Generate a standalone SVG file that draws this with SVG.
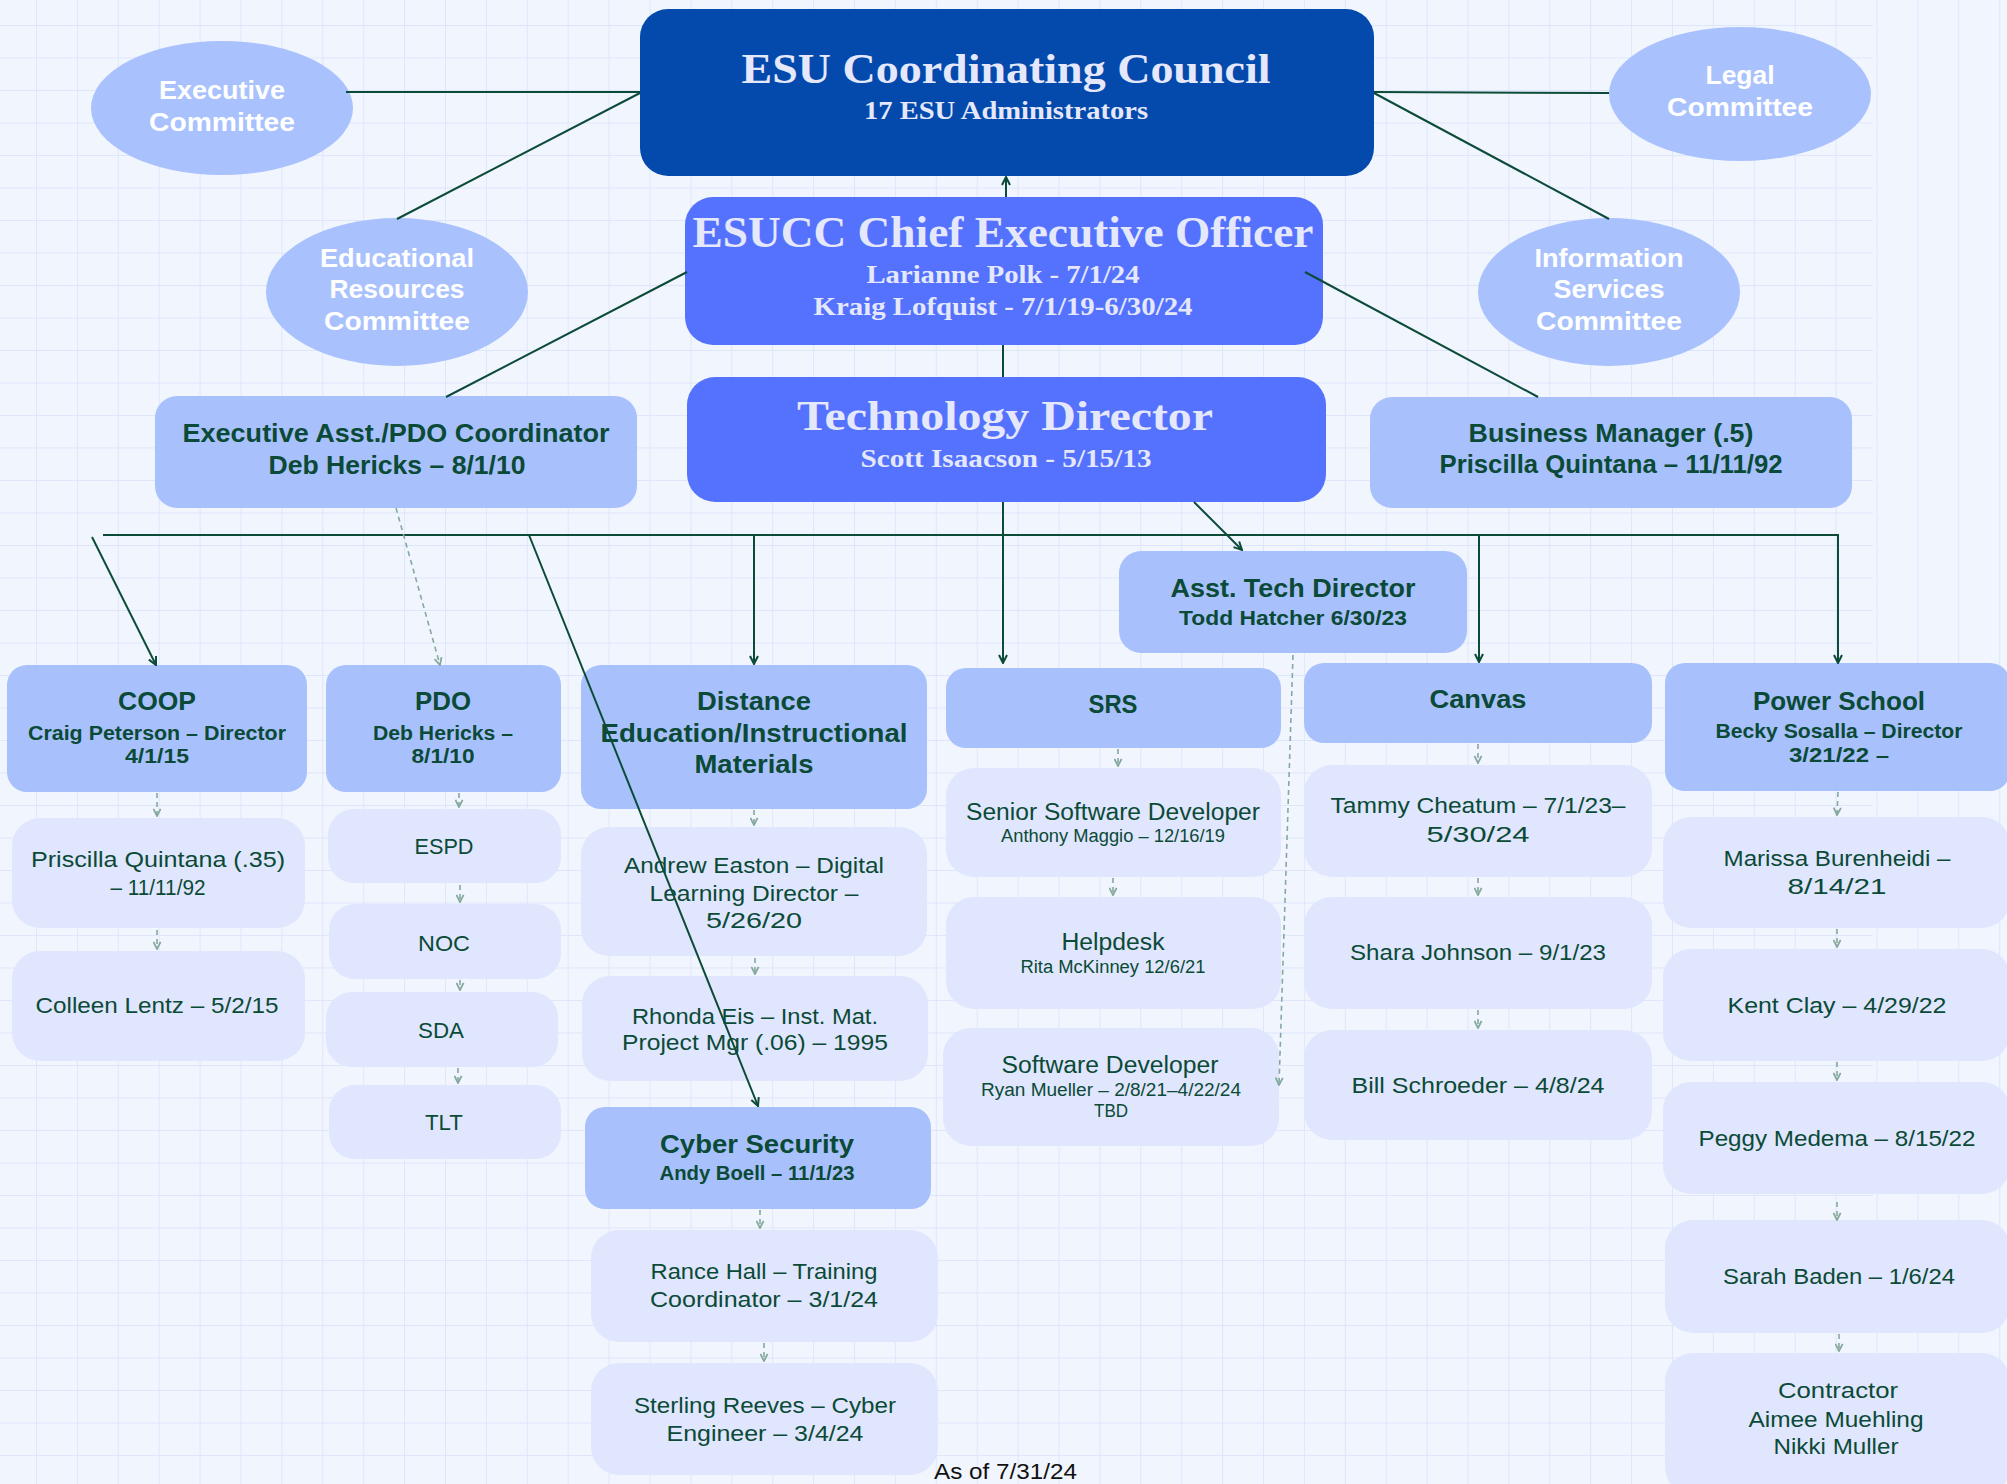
<svg xmlns="http://www.w3.org/2000/svg" width="2007" height="1484" viewBox="0 0 2007 1484">
<defs>
<pattern id="vgrid" x="36" y="0" width="40.9" height="100" patternUnits="userSpaceOnUse"><line x1="0" y1="0" x2="0" y2="100" stroke="#dfe6fb" stroke-width="2"/></pattern>
<pattern id="hgrid" x="0" y="25" width="100" height="32.5" patternUnits="userSpaceOnUse"><line x1="0" y1="0" x2="100" y2="0" stroke="#dfe6fb" stroke-width="2"/></pattern>
<marker id="arr" viewBox="0 0 10 10" refX="9" refY="5" markerWidth="10" markerHeight="10" markerUnits="userSpaceOnUse" orient="auto"><path d="M1,1 L9,5 L1,9" fill="none" stroke="#0b4b37" stroke-width="2"/></marker>
<marker id="darr" viewBox="0 0 10 10" refX="9" refY="5" markerWidth="9" markerHeight="9" markerUnits="userSpaceOnUse" orient="auto"><path d="M1,1 L9,5 L1,9" fill="none" stroke="#86a99d" stroke-width="2"/></marker>
</defs>
<style>
.ell{fill:#a9c2fd}
.dk{fill:#044aad}
.md{fill:#5472fe}
.lt{fill:#a8c1fd}
.lv{fill:#e0e6fd}
text{text-anchor:middle}
.wt{font-family:"Liberation Sans",Arial,sans-serif;font-weight:bold;font-size:26px;fill:#ffffff}
.hs{font-family:"Liberation Serif","Times New Roman",serif;font-weight:bold;fill:#e5e8fb}
.gb{font-family:"Liberation Sans",Arial,sans-serif;font-weight:bold;fill:#0b4a37}
.gr{font-family:"Liberation Sans",Arial,sans-serif;fill:#0b4a37}
.sol{stroke:#0b4b37;stroke-width:2;fill:none}
.sola{stroke:#0b4b37;stroke-width:2;fill:none;marker-end:url(#arr)}
.dsh{stroke:#86a99d;stroke-width:1.6;fill:none;stroke-dasharray:5 4;marker-end:url(#darr)}
</style>
<rect x="0" y="0" width="2007" height="1484" fill="#f1f5fe"/>
<rect x="0" y="0" width="2007" height="1484" fill="url(#vgrid)"/>
<rect x="0" y="0" width="1873" height="1484" fill="url(#hgrid)"/>

<g id="exec-committee">
<ellipse class="ell" cx="222" cy="108" rx="131" ry="67"/>
<text class="wt" x="222" y="99" textLength="126" lengthAdjust="spacingAndGlyphs">Executive</text>
<text class="wt" x="222" y="131" textLength="146" lengthAdjust="spacingAndGlyphs">Committee</text>
</g>
<g id="legal-committee">
<ellipse class="ell" cx="1740" cy="94" rx="131" ry="67"/>
<text class="wt" x="1740" y="84" textLength="69" lengthAdjust="spacingAndGlyphs">Legal</text>
<text class="wt" x="1740" y="116" textLength="146" lengthAdjust="spacingAndGlyphs">Committee</text>
</g>
<g id="edu-committee">
<ellipse class="ell" cx="397" cy="292" rx="131" ry="74"/>
<text class="wt" x="397" y="267" textLength="154" lengthAdjust="spacingAndGlyphs">Educational</text>
<text class="wt" x="397" y="298" textLength="135" lengthAdjust="spacingAndGlyphs">Resources</text>
<text class="wt" x="397" y="330" textLength="146" lengthAdjust="spacingAndGlyphs">Committee</text>
</g>
<g id="info-committee">
<ellipse class="ell" cx="1609" cy="292" rx="131" ry="74"/>
<text class="wt" x="1609" y="267" textLength="149" lengthAdjust="spacingAndGlyphs">Information</text>
<text class="wt" x="1609" y="298" textLength="111" lengthAdjust="spacingAndGlyphs">Services</text>
<text class="wt" x="1609" y="330" textLength="146" lengthAdjust="spacingAndGlyphs">Committee</text>
</g>

<g id="esu-council">
<rect class="dk" x="640" y="9" width="734" height="167" rx="28"/>
<text class="hs" x="1006" y="83" font-size="42" textLength="529" lengthAdjust="spacingAndGlyphs">ESU Coordinating Council</text>
<text class="hs" x="1006" y="119" font-size="25" textLength="284" lengthAdjust="spacingAndGlyphs">17 ESU Administrators</text>
</g>
<g id="ceo">
<rect class="md" x="685" y="197" width="638" height="148" rx="28"/>
<text class="hs" x="1003" y="247" font-size="44" textLength="621" lengthAdjust="spacingAndGlyphs">ESUCC Chief Executive Officer</text>
<text class="hs" x="1003" y="283" font-size="26" textLength="273" lengthAdjust="spacingAndGlyphs">Larianne Polk - 7/1/24</text>
<text class="hs" x="1003" y="315" font-size="26" textLength="379" lengthAdjust="spacingAndGlyphs">Kraig Lofquist - 7/1/19-6/30/24</text>
</g>
<g id="tech-director">
<rect class="md" x="687" y="377" width="639" height="125" rx="28"/>
<text class="hs" x="1005" y="430" font-size="43" textLength="416" lengthAdjust="spacingAndGlyphs">Technology Director</text>
<text class="hs" x="1006" y="467" font-size="26" textLength="291" lengthAdjust="spacingAndGlyphs">Scott Isaacson - 5/15/13</text>
</g>
<g id="exec-asst">
<rect class="lt" x="155" y="396" width="482" height="112" rx="22"/>
<text class="gb" x="396" y="442" font-size="26" textLength="427" lengthAdjust="spacingAndGlyphs">Executive Asst./PDO Coordinator</text>
<text class="gb" x="397" y="474" font-size="26" textLength="257" lengthAdjust="spacingAndGlyphs">Deb Hericks – 8/1/10</text>
</g>
<g id="business-manager">
<rect class="lt" x="1370" y="397" width="482" height="111" rx="22"/>
<text class="gb" x="1611" y="442" font-size="26" textLength="285" lengthAdjust="spacingAndGlyphs">Business Manager (.5)</text>
<text class="gb" x="1611" y="473" font-size="26" textLength="343" lengthAdjust="spacingAndGlyphs">Priscilla Quintana – 11/11/92</text>
</g>
<g id="asst-tech">
<rect class="lt" x="1119" y="551" width="348" height="102" rx="22"/>
<text class="gb" x="1293" y="597" font-size="26" textLength="245" lengthAdjust="spacingAndGlyphs">Asst. Tech Director</text>
<text class="gb" x="1293" y="625" font-size="21" textLength="228" lengthAdjust="spacingAndGlyphs">Todd Hatcher 6/30/23</text>
</g>

<g id="coop">
<rect class="lt" x="7" y="665" width="300" height="127" rx="20"/>
<text class="gb" x="157" y="710" font-size="25" textLength="78" lengthAdjust="spacingAndGlyphs">COOP</text>
<text class="gb" x="157" y="740" font-size="20" textLength="258" lengthAdjust="spacingAndGlyphs">Craig Peterson – Director</text>
<text class="gb" x="157" y="763" font-size="20" textLength="64" lengthAdjust="spacingAndGlyphs">4/1/15</text>
</g>
<g id="priscilla">
<rect class="lv" x="12" y="818" width="293" height="110" rx="28"/>
<text class="gr" x="158" y="867" font-size="22" textLength="254" lengthAdjust="spacingAndGlyphs">Priscilla Quintana  (.35)</text>
<text class="gr" x="158" y="895" font-size="22" textLength="95" lengthAdjust="spacingAndGlyphs">– 11/11/92</text>
</g>
<g id="colleen">
<rect class="lv" x="12" y="951" width="293" height="110" rx="28"/>
<text class="gr" x="157" y="1013" font-size="22" textLength="243" lengthAdjust="spacingAndGlyphs">Colleen Lentz – 5/2/15</text>
</g>

<g id="pdo">
<rect class="lt" x="326" y="665" width="235" height="127" rx="20"/>
<text class="gb" x="443" y="710" font-size="25" textLength="56" lengthAdjust="spacingAndGlyphs">PDO</text>
<text class="gb" x="443" y="740" font-size="20" textLength="140" lengthAdjust="spacingAndGlyphs">Deb Hericks –</text>
<text class="gb" x="443" y="763" font-size="20" textLength="63" lengthAdjust="spacingAndGlyphs">8/1/10</text>
</g>
<g id="espd">
<rect class="lv" x="328" y="809" width="233" height="74" rx="26"/>
<text class="gr" x="444" y="854" font-size="22" textLength="59" lengthAdjust="spacingAndGlyphs">ESPD</text>
</g>
<g id="noc">
<rect class="lv" x="329" y="904" width="232" height="75" rx="26"/>
<text class="gr" x="444" y="951" font-size="22" textLength="52" lengthAdjust="spacingAndGlyphs">NOC</text>
</g>
<g id="sda">
<rect class="lv" x="326" y="992" width="232" height="75" rx="26"/>
<text class="gr" x="441" y="1038" font-size="22" textLength="46" lengthAdjust="spacingAndGlyphs">SDA</text>
</g>
<g id="tlt">
<rect class="lv" x="329" y="1085" width="232" height="74" rx="26"/>
<text class="gr" x="444" y="1130" font-size="22" textLength="38" lengthAdjust="spacingAndGlyphs">TLT</text>
</g>

<g id="distance-ed">
<rect class="lt" x="581" y="665" width="346" height="144" rx="20"/>
<text class="gb" x="754" y="710" font-size="25" textLength="114" lengthAdjust="spacingAndGlyphs">Distance</text>
<text class="gb" x="754" y="742" font-size="25" textLength="307" lengthAdjust="spacingAndGlyphs">Education/Instructional</text>
<text class="gb" x="754" y="773" font-size="25" textLength="119" lengthAdjust="spacingAndGlyphs">Materials</text>
</g>
<g id="andrew">
<rect class="lv" x="581" y="827" width="346" height="129" rx="28"/>
<text class="gr" x="754" y="873" font-size="22" textLength="260" lengthAdjust="spacingAndGlyphs">Andrew Easton – Digital</text>
<text class="gr" x="754" y="901" font-size="22" textLength="209" lengthAdjust="spacingAndGlyphs">Learning Director –</text>
<text class="gr" x="754" y="928" font-size="22" textLength="96" lengthAdjust="spacingAndGlyphs">5/26/20</text>
</g>
<g id="rhonda">
<rect class="lv" x="582" y="976" width="346" height="105" rx="28"/>
<text class="gr" x="755" y="1024" font-size="22" textLength="246" lengthAdjust="spacingAndGlyphs">Rhonda Eis – Inst. Mat.</text>
<text class="gr" x="755" y="1050" font-size="22" textLength="266" lengthAdjust="spacingAndGlyphs">Project Mgr (.06) – 1995</text>
</g>
<g id="cyber">
<rect class="lt" x="585" y="1107" width="346" height="102" rx="20"/>
<text class="gb" x="757" y="1153" font-size="26" textLength="194" lengthAdjust="spacingAndGlyphs">Cyber Security</text>
<text class="gb" x="757" y="1180" font-size="20" textLength="195" lengthAdjust="spacingAndGlyphs">Andy Boell – 11/1/23</text>
</g>
<g id="rance">
<rect class="lv" x="591" y="1230" width="347" height="112" rx="28"/>
<text class="gr" x="764" y="1279" font-size="22" textLength="227" lengthAdjust="spacingAndGlyphs">Rance Hall – Training</text>
<text class="gr" x="764" y="1307" font-size="22" textLength="228" lengthAdjust="spacingAndGlyphs">Coordinator – 3/1/24</text>
</g>
<g id="sterling">
<rect class="lv" x="591" y="1363" width="347" height="112" rx="28"/>
<text class="gr" x="765" y="1413" font-size="22" textLength="262" lengthAdjust="spacingAndGlyphs">Sterling Reeves – Cyber</text>
<text class="gr" x="765" y="1441" font-size="22" textLength="197" lengthAdjust="spacingAndGlyphs">Engineer – 3/4/24</text>
</g>

<g id="srs">
<rect class="lt" x="946" y="668" width="335" height="80" rx="20"/>
<text class="gb" x="1113" y="713" font-size="25" textLength="49" lengthAdjust="spacingAndGlyphs">SRS</text>
</g>
<g id="senior-dev">
<rect class="lv" x="946" y="768" width="335" height="109" rx="28"/>
<text class="gr" x="1113" y="820" font-size="23" textLength="294" lengthAdjust="spacingAndGlyphs">Senior Software Developer</text>
<text class="gr" x="1113" y="842" font-size="18" textLength="224" lengthAdjust="spacingAndGlyphs">Anthony Maggio – 12/16/19</text>
</g>
<g id="helpdesk">
<rect class="lv" x="946" y="897" width="335" height="112" rx="28"/>
<text class="gr" x="1113" y="950" font-size="23" textLength="103" lengthAdjust="spacingAndGlyphs">Helpdesk</text>
<text class="gr" x="1113" y="973" font-size="18" textLength="185" lengthAdjust="spacingAndGlyphs">Rita McKinney 12/6/21</text>
</g>
<g id="software-dev">
<rect class="lv" x="943" y="1028" width="336" height="118" rx="28"/>
<text class="gr" x="1110" y="1073" font-size="23" textLength="217" lengthAdjust="spacingAndGlyphs">Software Developer</text>
<text class="gr" x="1111" y="1096" font-size="18" textLength="260" lengthAdjust="spacingAndGlyphs">Ryan Mueller – 2/8/21–4/22/24</text>
<text class="gr" x="1111" y="1117" font-size="18" textLength="34" lengthAdjust="spacingAndGlyphs">TBD</text>
</g>

<g id="canvas">
<rect class="lt" x="1304" y="663" width="348" height="80" rx="20"/>
<text class="gb" x="1478" y="708" font-size="25" textLength="97" lengthAdjust="spacingAndGlyphs">Canvas</text>
</g>
<g id="tammy">
<rect class="lv" x="1304" y="765" width="348" height="112" rx="28"/>
<text class="gr" x="1478" y="813" font-size="22" textLength="295" lengthAdjust="spacingAndGlyphs">Tammy Cheatum – 7/1/23–</text>
<text class="gr" x="1478" y="842" font-size="22" textLength="103" lengthAdjust="spacingAndGlyphs">5/30/24</text>
</g>
<g id="shara">
<rect class="lv" x="1304" y="897" width="348" height="112" rx="28"/>
<text class="gr" x="1478" y="960" font-size="22" textLength="256" lengthAdjust="spacingAndGlyphs">Shara Johnson – 9/1/23</text>
</g>
<g id="bill">
<rect class="lv" x="1304" y="1030" width="348" height="110" rx="28"/>
<text class="gr" x="1478" y="1093" font-size="22" textLength="253" lengthAdjust="spacingAndGlyphs">Bill Schroeder – 4/8/24</text>
</g>

<g id="power-school">
<rect class="lt" x="1665" y="663" width="345" height="128" rx="20"/>
<text class="gb" x="1839" y="710" font-size="25" textLength="172" lengthAdjust="spacingAndGlyphs">Power School</text>
<text class="gb" x="1839" y="738" font-size="21" textLength="247" lengthAdjust="spacingAndGlyphs">Becky Sosalla – Director</text>
<text class="gb" x="1839" y="762" font-size="21" textLength="100" lengthAdjust="spacingAndGlyphs">3/21/22 –</text>
</g>
<g id="marissa">
<rect class="lv" x="1663" y="817" width="347" height="111" rx="28"/>
<text class="gr" x="1837" y="866" font-size="22" textLength="227" lengthAdjust="spacingAndGlyphs">Marissa Burenheidi –</text>
<text class="gr" x="1837" y="894" font-size="22" textLength="99" lengthAdjust="spacingAndGlyphs">8/14/21</text>
</g>
<g id="kent">
<rect class="lv" x="1663" y="949" width="347" height="112" rx="28"/>
<text class="gr" x="1837" y="1013" font-size="22" textLength="219" lengthAdjust="spacingAndGlyphs">Kent Clay – 4/29/22</text>
</g>
<g id="peggy">
<rect class="lv" x="1663" y="1082" width="347" height="112" rx="28"/>
<text class="gr" x="1837" y="1146" font-size="22" textLength="277" lengthAdjust="spacingAndGlyphs">Peggy Medema – 8/15/22</text>
</g>
<g id="sarah">
<rect class="lv" x="1665" y="1220" width="345" height="113" rx="28"/>
<text class="gr" x="1839" y="1284" font-size="22" textLength="232" lengthAdjust="spacingAndGlyphs">Sarah Baden – 1/6/24</text>
</g>
<g id="contractor">
<rect class="lv" x="1665" y="1353" width="345" height="142" rx="28"/>
<text class="gr" x="1838" y="1398" font-size="22" textLength="120" lengthAdjust="spacingAndGlyphs">Contractor</text>
<text class="gr" x="1836" y="1427" font-size="22" textLength="175" lengthAdjust="spacingAndGlyphs">Aimee Muehling</text>
<text class="gr" x="1836" y="1454" font-size="22" textLength="125" lengthAdjust="spacingAndGlyphs">Nikki Muller</text>
</g>

<g id="connectors">
<line class="sol" x1="346" y1="92" x2="640" y2="92"/>
<line class="sol" x1="640" y1="93" x2="397" y2="219"/>
<line class="sol" x1="1374" y1="92" x2="1609" y2="93"/>
<line class="sol" x1="1374" y1="93" x2="1609" y2="219"/>
<line class="sola" x1="1006" y1="197" x2="1006" y2="177"/>
<line class="sol" x1="1003" y1="345" x2="1003" y2="377"/>
<line class="sol" x1="687" y1="272" x2="446" y2="397"/>
<line class="sol" x1="1305" y1="272" x2="1538" y2="397"/>
<line class="sola" x1="1003" y1="502" x2="1003" y2="663"/>
<line class="sola" x1="1194" y1="502" x2="1242" y2="550"/>
<polyline class="sola" points="103,535 1838,535 1838,663"/>
<line class="sola" x1="92" y1="537" x2="156" y2="665"/>
<line class="sola" x1="754" y1="535" x2="754" y2="664"/>
<line class="sola" x1="1479" y1="535" x2="1479" y2="662"/>
<line class="sola" x1="529" y1="535" x2="758" y2="1106"/>
<line class="dsh" x1="396" y1="508" x2="440" y2="665"/>
<line class="dsh" x1="1293" y1="655" x2="1279" y2="1085"/>
<line class="dsh" x1="157" y1="793" x2="157" y2="816"/>
<line class="dsh" x1="157" y1="930" x2="157" y2="949"/>
<line class="dsh" x1="459" y1="793" x2="459" y2="807"/>
<line class="dsh" x1="460" y1="885" x2="460" y2="902"/>
<line class="dsh" x1="460" y1="980" x2="460" y2="990"/>
<line class="dsh" x1="458" y1="1068" x2="458" y2="1083"/>
<line class="dsh" x1="754" y1="810" x2="754" y2="825"/>
<line class="dsh" x1="755" y1="958" x2="755" y2="974"/>
<line class="dsh" x1="760" y1="1210" x2="760" y2="1228"/>
<line class="dsh" x1="764" y1="1343" x2="764" y2="1361"/>
<line class="dsh" x1="1118" y1="749" x2="1118" y2="766"/>
<line class="dsh" x1="1113" y1="878" x2="1113" y2="895"/>
<line class="dsh" x1="1478" y1="744" x2="1478" y2="763"/>
<line class="dsh" x1="1478" y1="878" x2="1478" y2="895"/>
<line class="dsh" x1="1478" y1="1010" x2="1478" y2="1028"/>
<line class="dsh" x1="1838" y1="792" x2="1837" y2="815"/>
<line class="dsh" x1="1837" y1="929" x2="1837" y2="947"/>
<line class="dsh" x1="1837" y1="1062" x2="1837" y2="1080"/>
<line class="dsh" x1="1837" y1="1202" x2="1837" y2="1220"/>
<line class="dsh" x1="1839" y1="1334" x2="1839" y2="1351"/>
</g>

<text x="934" y="1479" font-family="Liberation Sans, Arial, sans-serif" font-size="22" fill="#111111" style="text-anchor:start" textLength="143" lengthAdjust="spacingAndGlyphs">As of 7/31/24</text>
</svg>
